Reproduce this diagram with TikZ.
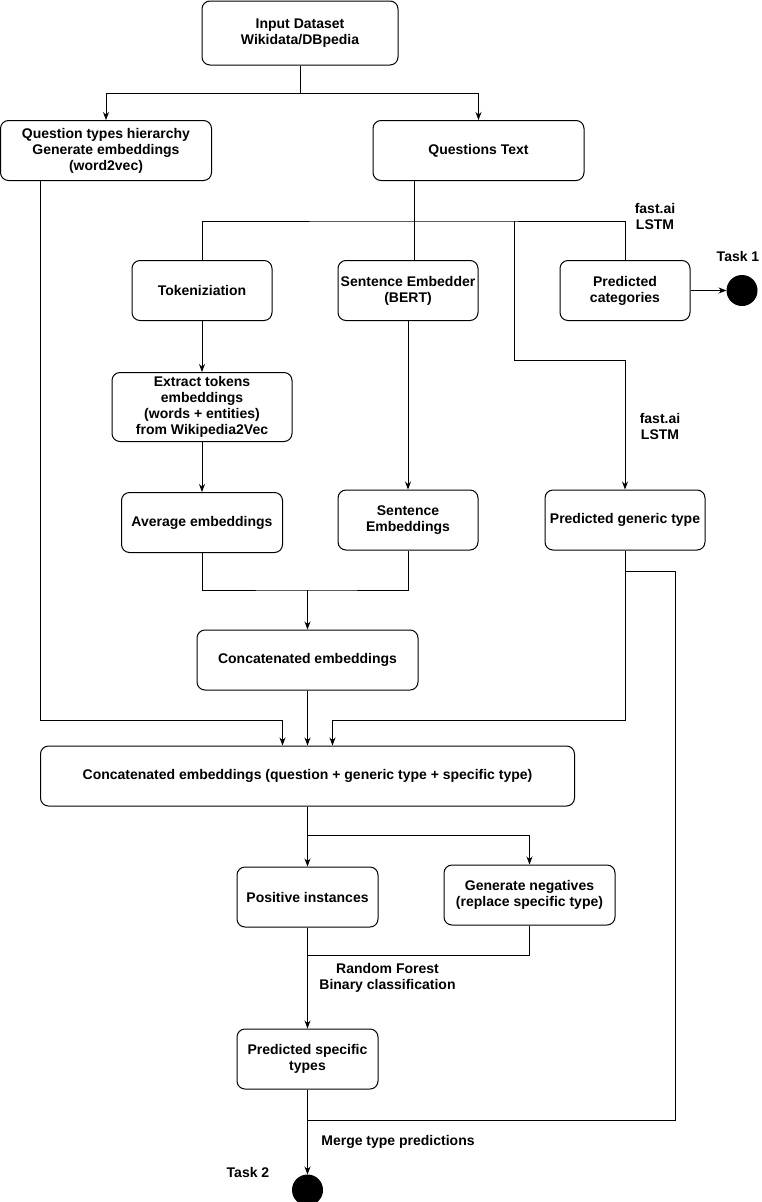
\documentclass[tikz,border=0pt]{standalone}
\usepackage{fontspec}
\setmainfont{Liberation Sans}
\usetikzlibrary{positioning,arrows.meta}

\begin{document}
\begin{tikzpicture}[
    x=1pt, y=1pt,
    font=\bfseries\fontsize{14}{16}\selectfont,
    line width=1pt,
    >={Stealth[length=8pt,width=6pt]},
    stepbox/.style={rectangle, rounded corners=8pt, draw=black, align=center, inner sep=2pt, minimum height=60pt},
    lbl/.style={align=center, inner sep=0pt},
    endpoint/.style={circle, fill=black, draw=black, minimum size=30pt, inner sep=0pt}
]
\useasboundingbox (0,0) rectangle (761,-1202);

\node[stepbox, minimum width=196pt, minimum height=64pt] (input) at (300,-33) {Input Dataset\\Wikidata/DBpedia};
\node[stepbox, minimum width=211pt] (qtypes) at (106,-150.5) {Question types hierarchy\\Generate embeddings\\(word2vec)};
\node[stepbox, minimum width=211pt] (qtext) at (478.5,-150.5) {Questions Text};
\node[stepbox, minimum width=140pt] (token) at (202,-290.5) {Tokeniziation};
\node[stepbox, minimum width=140pt] (sentemb) at (408,-290.5) {Sentence Embedder\\(BERT)};
\node[stepbox, minimum width=130pt] (predcat) at (625,-290.5) {Predicted\\categories};
\node[endpoint, right=36pt of predcat] (task1) {};
\node[lbl] (task1lbl) at (738,-256) {Task 1};
\node[stepbox, minimum width=180pt, minimum height=69pt, below=51pt of token] (extract) {Extract tokens\\embeddings\\(words + entities)\\from Wikipedia2Vec};
\node[stepbox, minimum width=161pt, below=50pt of extract] (average) {Average embeddings};
\node[stepbox, minimum width=140pt] (sentembs) at (408,-520) {Sentence\\Embeddings};
\node[stepbox, minimum width=160pt] (predgen) at (625,-520) {Predicted generic type};
\node[stepbox, minimum width=221pt] (concat) at (307.5,-660) {Concatenated embeddings};
\node[stepbox, minimum width=534pt, below=55pt of concat] (allcat) {Concatenated embeddings (question + generic type + specific type)};
\node[stepbox, minimum width=141pt, below=60pt of allcat] (positive) {Positive instances};
\node[stepbox, minimum width=171pt] (negatives) at (529.5,-895) {Generate negatives\\(replace specific type)};
\node[stepbox, minimum width=141pt, below=101pt of positive] (predspec) {Predicted specific\\types};
\node[endpoint, below=85pt of predspec] (task2) {};
\node[lbl] (task2lbl) at (248,-1172) {Task 2};

\node[lbl] (lstm1) at (655,-216) {fast.ai\\LSTM};
\node[lbl] (lstm2) at (660,-426) {fast.ai\\LSTM};
\node[lbl] (rforest) at (387.5,-978) {Random Forest\\Binary classification};
\node[lbl] (merge) at (398,-1142) {Merge type predictions};

\coordinate (fork1) at (300,-93);
\coordinate (qbus) at (414,-221);
\coordinate (gbus) at (514,-221);
\coordinate (join1) at (307.5,-590);
\coordinate (lbus) at (40.5,-720);
\coordinate (fork3) at (307.5,-835);
\coordinate (join2) at (307.5,-955);
\coordinate (mbus) at (307.5,-1120);

\draw (input) -- (fork1);
\draw[->] (fork1) -| (qtypes);
\draw[->] (fork1) -| (qtext);
\draw (qbus |- qtext.south) -- (qbus |- sentemb.north);
\draw (token) |- (qbus) -| (predcat);
\draw[->] (gbus) -- ++(0,-139) -| (predgen);
\draw[->] (predcat) -- (task1);
\draw[->] (token) -- (extract);
\draw[->] (extract) -- (average);
\draw[->] (sentemb) -- (sentembs);
\draw (average) |- (join1) -| (sentembs);
\draw[->] (join1) -- (concat);
\draw[->] (lbus |- qtypes.south) -- (lbus) -| ([xshift=-25pt]allcat.north);
\draw[->] (predgen) -- (predgen |- lbus) -| ([xshift=25pt]allcat.north);
\draw[->] (concat) -- (allcat);
\draw[->] (allcat) -- (positive);
\draw[->] (fork3) -| (negatives);
\draw (negatives) |- (join2);
\draw[->] (positive) -- (predspec);
\draw ([yshift=-21pt]predgen.south) -- ++(50,0) |- (mbus);
\draw[->] (predspec) -- (task2);

\end{tikzpicture}
\end{document}
